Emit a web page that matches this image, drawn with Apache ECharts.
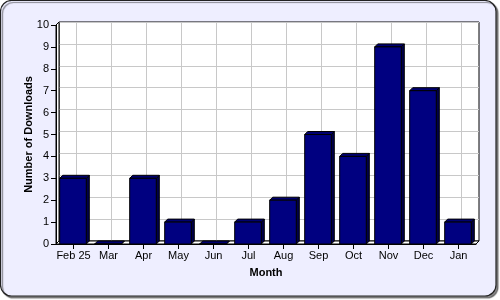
<!DOCTYPE html>
<html><head><meta charset="utf-8">
<style>html,body{margin:0;padding:0;background:#fff;}#c{width:500px;height:300px;}</style>
<script src="https://cdn.jsdelivr.net/npm/echarts@6/dist/echarts.min.js"></script>
</head><body><div id="c"></div>
<script>
const categories = ['Feb 25','Mar','Apr','May','Jun','Jul','Aug','Sep','Oct','Nov','Dec','Jan'];
const downloads = [3,0,3,1,0,1,2,5,4,9,7,1];
const yTicks = [0,1,2,3,4,5,6,7,8,9,10];

const chart = echarts.init(document.getElementById('c'), null, {renderer:'canvas'});
const font = '"Liberation Sans", Arial, sans-serif';
const D = 3; // 3D depth

function renderBar(params, api) {
  const idx = api.value(0), v = api.value(1);
  const top = api.coord([idx, v]);
  const base = api.coord([idx, 0]);
  const band = api.size([1, 0])[0];
  const w = band * 0.76;
  const x0 = top[0] - w / 2 - 0.5, x1 = x0 + w;
  const yt = top[1], yb = base[1];
  const ls = {stroke:'#000', lineWidth:1};
  return {type:'group', children:[
    {type:'polygon', shape:{points:[[x1,yt],[x1+D,yt-D],[x1+D,yb-D],[x1,yb]]}, style:Object.assign({fill:'#00004a'}, ls)},
    {type:'polygon', shape:{points:[[x0,yt],[x0+D,yt-D],[x1+D,yt-D],[x1,yt]]}, style:Object.assign({fill:'#000070'}, ls)},
    {type:'rect', shape:{x:x0, y:yt, width:w, height:yb-yt}, style:Object.assign({fill:'#000080'}, ls)}
  ]};
}

chart.setOption({
  animation:false,
  backgroundColor:'#ffffff',
  textStyle:{fontFamily:font},
  graphic:[
    {type:'rect', z:-10, shape:{x:0.5,y:0.5,width:495.5,height:295.5,r:11},
     style:{fill:'#eeeeff', stroke:'#222', lineWidth:1.2, shadowColor:'rgba(0,0,0,0.45)', shadowOffsetX:2, shadowOffsetY:2, shadowBlur:1}},
    {type:'polygon', z:5, shape:{points:[[56,244],[59,241],[479,241],[476,244]]}, style:{fill:'#fff', stroke:'#000', lineWidth:1}},
    {type:'polygon', z:5, shape:{points:[[56,25],[59,22],[59,241],[56,244]]}, style:{fill:'#fff', stroke:'#000', lineWidth:1}}
  ],
  grid:[
    {left:59, right:21, top:22, bottom:59, show:true, backgroundColor:'#fff', borderColor:'#000', borderWidth:1},
    {left:56, right:24, top:25, bottom:56}
  ],
  xAxis:[
    {gridIndex:0, type:'value', min:0, max:24, interval:1, axisLine:{show:false}, axisTick:{show:false}, axisLabel:{show:false},
     splitLine:{show:true, lineStyle:{color:['rgba(0,0,0,0)','#c8c8c8'], width:1}}},
    {gridIndex:1, type:'category', data:categories, boundaryGap:true,
     axisLine:{show:true, lineStyle:{color:'#000', width:1}},
     axisTick:{show:true, alignWithLabel:true, length:5, lineStyle:{color:'#000'}},
     axisLabel:{color:'#000', fontSize:11, margin:6, interval:0, fontFamily:font},
     splitLine:{show:false},
     name:'Month', nameLocation:'middle', nameGap:23,
     nameTextStyle:{color:'#000', fontWeight:'bold', fontSize:11, fontFamily:font}, z:6}
  ],
  yAxis:[
    {gridIndex:0, type:'value', min:0, max:10, interval:1, axisLine:{show:false}, axisTick:{show:false}, axisLabel:{show:false},
     splitLine:{show:true, lineStyle:{color:'#c8c8c8', width:1}}},
    {gridIndex:1, type:'value', min:yTicks[0], max:yTicks[yTicks.length-1], interval:1,
     axisLine:{show:true, lineStyle:{color:'#000', width:1}},
     axisTick:{show:true, length:5, lineStyle:{color:'#000'}},
     axisLabel:{color:'#000', fontSize:11, margin:7, fontFamily:font},
     splitLine:{show:false},
     name:'Number of Downloads', nameLocation:'middle', nameGap:22, nameMoveOverlap:false,
     nameTextStyle:{color:'#000', fontWeight:'bold', fontSize:11, fontFamily:font}, z:6}
  ],
  series:[{
    type:'custom', xAxisIndex:1, yAxisIndex:1, z:10,
    renderItem:renderBar,
    data:downloads.map((v,i)=>[i,v])
  }]
});
</script></body></html>
